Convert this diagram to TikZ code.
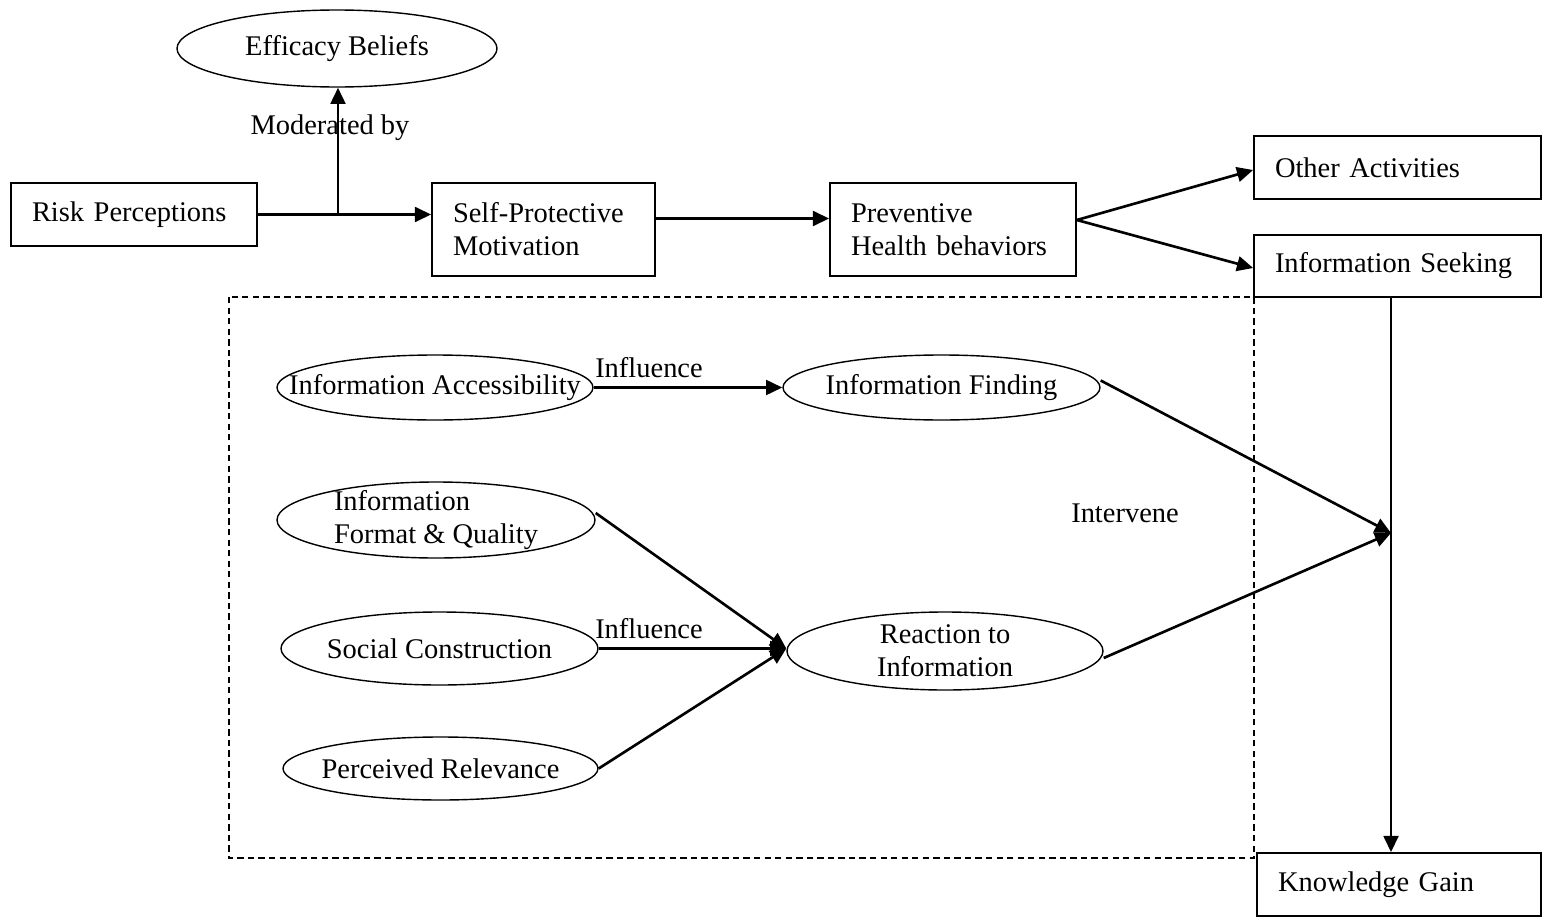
\documentclass[tikz,border=0pt]{standalone}
\usepackage{fontspec}
\setmainfont{Liberation Serif}
\usetikzlibrary{shapes.geometric,arrows.meta}

\tikzset{
	txt/.style={font=\fontsize{8.1}{9.4}\selectfont, inner sep=0pt},
	box/.style={draw, line width=0.5pt, rectangle, txt, align=left, inner xsep=0.21cm},
	oval/.style={draw, line width=0.4pt, ellipse, inner sep=0pt, minimum width=3.16cm},
	arr/.style={line width=0.75pt, -{Triangle[length=4.6pt,width=4.2pt]}},
	lin/.style={line width=0.75pt}
}

\begin{document}
\begin{tikzpicture}
	
	\useasboundingbox (0,0) rectangle (15.44,-9.18);
	
	\node[box, text width=2.04cm, minimum height=0.63cm] (risk) at (1.34,-2.145) {Risk Perceptions};
	\node[box, text width=1.81cm, minimum height=0.93cm] (self) at (5.435,-2.295) {Self-Protective\\Motivation};
	\node[box, text width=2.04cm, minimum height=0.93cm] (prev) at (9.53,-2.295) {Preventive\\Health behaviors};
	\node[box, text width=2.45cm, minimum height=0.63cm] (other) at (13.975,-1.675) {Other Activities};
	\node[box, text width=2.45cm, minimum height=0.62cm] (seek) at (13.975,-2.66) {Information Seeking};
	\node[box, text width=2.42cm, minimum height=0.63cm] (know) at (13.99,-8.845) {Knowledge Gain};
	
	\node[oval, minimum width=3.2cm, minimum height=0.77cm, label={[txt]center:Efficacy Beliefs}] (eff) at (3.37,-0.485) {};
	
	\draw[dash pattern=on 1.8pt off 1.2pt, line width=0.45pt] (2.29,-2.97) rectangle (12.54,-8.58);
	
	\node[oval, minimum height=0.65cm, label={[txt]center:Information Accessibility}] (access) at (4.35,-3.875) {};
	\node[oval, minimum width=3.17cm, minimum height=0.65cm, label={[txt]center:Information Finding}] (find) at (9.415,-3.875) {};
	\node[oval, minimum width=3.18cm, minimum height=0.76cm, label={[txt, align=left]center:Information\\Format \& Quality}] (format) at (4.36,-5.2) {};
	\node[oval, minimum width=3.17cm, minimum height=0.73cm, label={[txt]center:Social Construction}] (social) at (4.395,-6.485) {};
	\node[oval, minimum width=3.15cm, minimum height=0.63cm, label={[txt]center:Perceived Relevance}] (perc) at (4.405,-7.685) {};
	\node[oval, minimum width=3.16cm, minimum height=0.78cm, label={[txt, align=center]center:Reaction to\\Information}] (react) at (9.45,-6.51) {};
	
	\node[txt] (mod) at (3.30,-1.28) {Moderated by};
	\node[txt] (infl1) at (6.49,-3.68) {Influence};
	\node[txt] (infl2) at (6.49,-6.29) {Influence};
	\node[txt] (interv) at (11.25,-5.13) {Intervene};
	
	\coordinate (split) at (3.38,-2.145);
	\coordinate (fork) at ([yshift=0.95mm]prev.east);
	\coordinate (join) at (13.91,-5.33);
	\coordinate (meet) at (react.west |- social.east);
	
	\draw[arr] (risk.east) -- (risk.east -| self.west);
	\draw[arr] (split) -- (eff.south -| split);
	\draw[arr] ([yshift=1.1mm]self.east) -- ([yshift=1.1mm]prev.west);
	\draw[arr] (fork) -- ([yshift=-0.25mm]other.west);
	\draw[arr] (fork) -- ([yshift=-0.2mm]seek.west);
	\draw[arr] (seek.south -| join) -- (know.north -| join);
	
	\draw[arr] (access.east) -- (find.west);
	\draw[arr] ([yshift=0.7mm]format.east) -- (meet);
	\draw[arr] (social.east) -- (meet);
	\draw[arr] (perc.east) -- (meet);
	\draw[arr] ([yshift=0.7mm]find.east) -- (join);
	\draw[arr] ([yshift=-0.7mm]react.east) -- (join);
	
\end{tikzpicture}
\end{document}
